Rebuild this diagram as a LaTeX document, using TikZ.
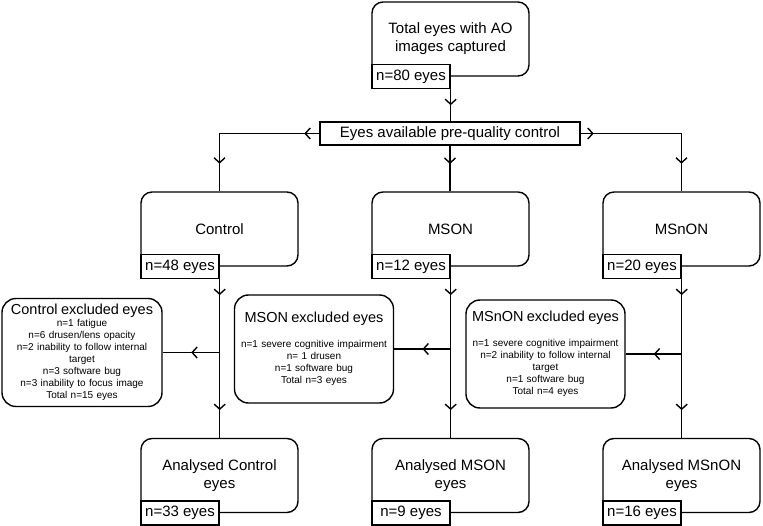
\documentclass[tikz,border=0pt]{standalone}
\usepackage{fontspec}
\setmainfont{Liberation Sans}
\usetikzlibrary{arrows.meta,positioning,decorations.markings}
\tikzset{
    %Define style for boxes
    boks/.style={
           rectangle,
           rounded corners=11pt,
           draw=black, line width=1.4pt,
           minimum width=157pt,
           minimum height=74pt,
           align=center,
           font=\fontsize{15}{18}\selectfont},
    boksrect/.style={
           rectangle,
           draw=black, line width=1.4pt,
           minimum width=260pt,
           minimum height=23pt,
           font=\fontsize{15}{18}\selectfont},
    nboks/.style={
           rectangle,
           draw=black, line width=1.4pt, fill=white,
           minimum width=78pt,
           minimum height=24pt,
           inner sep=0pt,
           anchor=north west,
           font=\fontsize{15}{18}\selectfont},
    ekskl/.style={
           rectangle,
           rounded corners=14pt,
           draw=black, line width=1.4pt,
           minimum height=108pt,
           inner sep=4pt,
           text width=151pt,
           align=center,
           font=\fontsize{10}{12}\selectfont},
    % Define arrow style
    pil/.style={
           line width=1.4pt,
           postaction={decorate},
           decoration={markings,
             mark=at position #1 with {\arrow{Straight Barb[length=5pt,width=11pt,line width=1.4pt]}}}},
    pil/.default=0.5,
    pilto/.style 2 args={
           line width=1.4pt,
           postaction={decorate},
           decoration={markings,
             mark=at position #1 with {\arrow{Straight Barb[length=5pt,width=11pt,line width=1.4pt]}},
             mark=at position #2 with {\arrow{Straight Barb[length=5pt,width=11pt,line width=1.4pt]}}}}
}
\newcommand{\hd}[1]{{\fontsize{14.5}{17}\selectfont #1}}

\begin{document}
\begin{tikzpicture}[x=1pt,y=-1pt]
\useasboundingbox (0,0) rectangle (763,526);

 %nodes
\node[boks] (total) at (450.5,39) {Total eyes with AO\\images captured};
\node[nboks] (totaln) at ([yshift=13pt]total.south west) {n=80 eyes};
\node[boksrect] (pre) at (450,133.5) {Eyes available pre-quality control};

\node[boks] (ctrl) at (219.5,229) {Control};
\node[nboks] (ctrln) at ([yshift=13pt]ctrl.south west) {n=48 eyes};
\node[boks] (mson) at (450.5,229) {MSON};
\node[nboks] (msonn) at ([yshift=13pt]mson.south west) {n=12 eyes};
\node[boks] (msnon) at (681.5,229) {MSnON};
\node[nboks] (msnonn) at ([yshift=13pt]msnon.south west) {n=20 eyes};

\node[ekskl, minimum width=160pt] (ctrlx) at (82,352.5) {\hd{Control excluded eyes}\\
  n=1 fatigue\\ n=6 drusen/lens opacity\\ n=2 inability to follow internal\\ target\\
  n=3 software bug\\ n=3 inability to focus image\\ Total n=15 eyes};
\node[ekskl, minimum width=158pt] (msonx) at (314,349) {\hd{MSON excluded eyes}\\[13pt]
  n=1 severe cognitive impairment\\ n= 1 drusen\\ n=1 software bug\\ Total n=3 eyes};
\node[ekskl, minimum width=159pt] (msnonx) at (545.5,354) {\hd{MSnON excluded eyes}\\[13pt]
  n=1 severe cognitive impairment\\ n=2 inability to follow internal\\ target\\
  n=1 software bug\\ Total n=4 eyes};

\node[boks] (ctrla) at (219.5,475.5) {Analysed Control\\eyes};
\node[nboks] (ctrlan) at ([yshift=13pt]ctrla.south west) {n=33 eyes};
\node[boks] (msona) at (450.5,475.5) {Analysed MSON\\eyes};
\node[nboks] (msonan) at ([yshift=13pt]msona.south west) {n=9 eyes};
\node[boks] (msnona) at (681.5,475.5) {Analysed MSnON\\eyes};
\node[nboks] (msnonan) at ([yshift=13pt]msnona.south west) {n=16 eyes};

 %edges
\draw[pil] (totaln.south east) -- (pre.north -| totaln.south east);
\draw[pil=0.4] (pre.south) -- (pre.south |- mson.north);
\draw[pilto={15pt}{130pt}] (pre.west) -| (ctrl.north);
\draw[pilto={13pt}{131pt}] (pre.east) -| (msnon.north);

\draw[pilto={16pt}{131pt}] (ctrln.south east) -- (ctrln.south east |- ctrla.north);
\draw[pilto={16pt}{131pt}] (msonn.south east) -- (msonn.south east |- msona.north);
\draw[pilto={16pt}{131pt}] (msnonn.south east) -- (msnonn.south east |- msnona.north);

\draw[pil] (ctrln.south east |- ctrlx.east) -- (ctrlx.east);
\draw[pil] (msonn.south east |- msonx.east) -- (msonx.east);
\draw[pil] (msnonn.south east |- msnonx.east) -- (msnonx.east);
\end{tikzpicture}
\end{document}
